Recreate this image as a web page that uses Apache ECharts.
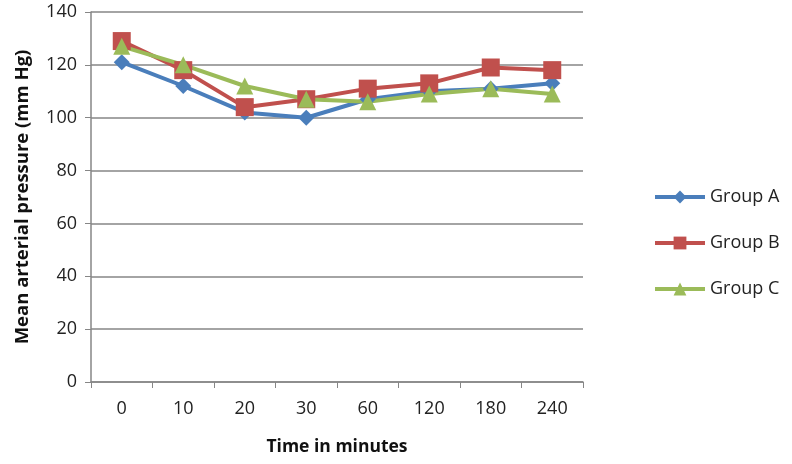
<!DOCTYPE html>
<html>
<head>
<meta charset="utf-8">
<script src="https://cdn.jsdelivr.net/npm/echarts@6/dist/echarts.min.js"></script>
<style>
  html, body { margin: 0; padding: 0; background: #fff; }
  #chart { width: 792px; height: 464px; }
</style>
</head>
<body>
<div id="chart"></div>
<script>
var times = ['0', '10', '20', '30', '60', '120', '180', '240']
var groupA = [121, 112, 102, 100, 107, 110, 111, 113]
var groupB = [129, 118, 104, 107, 111, 113, 119, 118]
var groupC = [127, 120, 112, 107, 106, 109, 111, 109]

var chart = echarts.init(document.getElementById('chart'))
var font = 'Open Sans, Liberation Sans, sans-serif'

function line(name, data, color, symbol, size) {
  return {
    name: name,
    type: 'line',
    data: data,
    symbol: symbol,
    symbolSize: size,
    lineStyle: { color: color, width: 4 },
    itemStyle: { color: color },
    animation: false
  }
}

chart.setOption({
  animation: false,
  grid: { left: 91, right: 209, top: 12, bottom: 82 },
  legend: {
    orient: 'vertical',
    left: 648,
    top: 183,
    itemWidth: 50,
    itemHeight: 16,
    itemGap: 28,
    lineStyle: { width: 4 },
    textStyle: { fontFamily: font, fontSize: 18, color: '#222' },
    data: ['Group A', 'Group B', 'Group C']
  },
  xAxis: {
    type: 'category',
    data: times,
    boundaryGap: true,
    name: 'Time in minutes',
    nameLocation: 'middle',
    nameGap: 56,
    nameTextStyle: { fontFamily: font, fontSize: 17.5, fontWeight: 'bold', color: '#111' },
    axisLine: { lineStyle: { color: '#868686', width: 1.5 } },
    axisTick: { show: true, length: 6, lineStyle: { color: '#868686' } },
    axisLabel: { fontFamily: font, fontSize: 18, color: '#222', margin: 18 }
  },
  yAxis: {
    type: 'value',
    min: 0,
    max: 140,
    interval: 20,
    name: 'Mean arterial pressure (mm Hg)',
    nameLocation: 'middle',
    nameGap: 59,
    nameTextStyle: { fontFamily: font, fontSize: 18.5, fontWeight: 'bold', color: '#111' },
    axisLine: { show: true, lineStyle: { color: '#868686', width: 1.5 } },
    axisTick: { show: true, length: 6, lineStyle: { color: '#868686' } },
    axisLabel: { fontFamily: font, fontSize: 18, color: '#222', margin: 14 },
    splitLine: { lineStyle: { color: '#868686', width: 1.5 } }
  },
  series: [
    line('Group A', groupA, '#4a7ebb', 'diamond', 16),
    line('Group B', groupB, '#c0504d', 'rect', 18),
    line('Group C', groupC, '#9bbb59', 'triangle', 17)
  ]
})
</script>
</body>
</html>
